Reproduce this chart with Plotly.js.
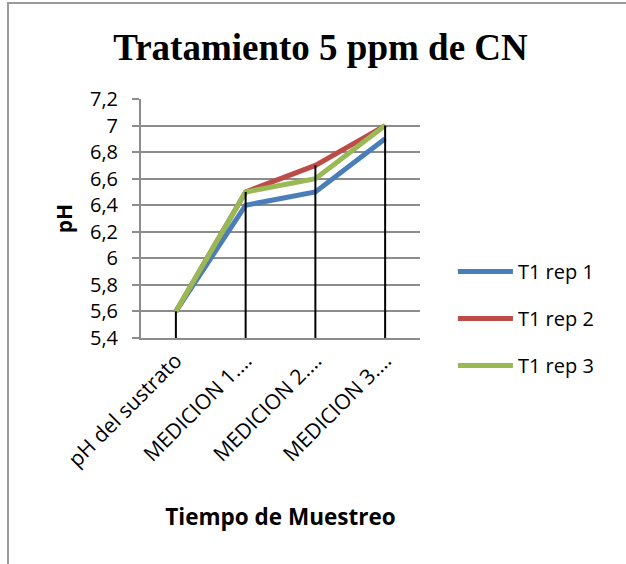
<!DOCTYPE html>
<html>
<head>
<meta charset="utf-8">
<script src="https://cdn.plot.ly/plotly-3.0.1.min.js"></script>
<style>
html,body{margin:0;padding:0;background:#fff;overflow:hidden;}
#wrap{position:relative;width:626px;height:564px;overflow:hidden;}
#chart{width:626px;height:564px;}
#frame{position:absolute;left:7px;top:2px;width:640px;height:600px;border-left:2px solid #9a9a9a;border-top:2px solid #9a9a9a;pointer-events:none;}
</style>
</head>
<body>
<div id="wrap"><div id="chart"></div><div id="frame"></div></div>
<script>
const categories = ["pH del sustrato", "MEDICION 1.…", "MEDICION 2.…", "MEDICION 3.…"];
const seriesNames = ["T1 rep 1", "T1 rep 2", "T1 rep 3"];
const rep1 = [5.6, 6.4, 6.5, 6.9];
const rep2 = [5.6, 6.5, 6.7, 7.0];
const rep3 = [5.6, 6.5, 6.6, 7.0];
const colors = ["#4A7EBB", "#BE4B48", "#98B954"];
const yMin = 5.4, yMax = 7.2;

const series = [rep1, rep2, rep3];
const traces = series.map((vals, i) => ({
  type: "scatter", mode: "lines", name: seriesNames[i], legendgroup: "g" + i,
  x: categories, y: vals,
  line: {color: colors[i], width: 5},
  hoverinfo: "skip"
}));

// drop lines from the highest value of each category down to the axis
const dx = [], dy = [];
categories.forEach((c, k) => {
  const top = Math.max(...series.map(s => s[k]));
  dx.push(c, c, null); dy.push(top, yMin, null);
});
traces.push({type: "scatter", mode: "lines", x: dx, y: dy, showlegend: false,
  line: {color: "#000", width: 2}, hoverinfo: "skip"});

const sans = "Open Sans, Liberation Sans, sans-serif";
const layout = {
  width: 626, height: 564,
  margin: {l: 141, r: 206, t: 99, b: 226},
  paper_bgcolor: "#fff", plot_bgcolor: "#fff",
  separators: ",.",
  showlegend: true,
  title: {text: "<b>Tratamiento 5 ppm de CN</b>", x: 0.512, xanchor: "center", y: 0.917, yanchor: "middle",
    font: {family: "Liberation Serif, Times New Roman, serif", size: 37, color: "#000"}},
  xaxis: {
    type: "category", range: [-0.5, 3.5], tickangle: -45,
    showgrid: false, showline: true, linecolor: "#8c8c8c", linewidth: 2,
    ticks: "", tickfont: {family: sans, size: 21, color: "#000"}, fixedrange: true,
    title: {text: "<b>Tiempo de Muestreo</b>", standoff: 38,
      font: {family: sans, size: 22.5, color: "#000"}}
  },
  yaxis: {
    range: [yMin, yMax], dtick: 0.2, tick0: 5.4,
    showgrid: true, gridcolor: "#8c8c8c", gridwidth: 2,
    showline: true, linecolor: "#8c8c8c", linewidth: 2,
    ticks: "outside", ticklen: 7, tickcolor: "#8c8c8c", tickwidth: 2,
    ticklabelstandoff: 10,
    tickfont: {family: sans, size: 20, color: "#000"}, fixedrange: true, zeroline: false,
    title: {text: "<b>pH</b>", standoff: 12,
      font: {family: sans, size: 21, color: "#000"}}
  },
  legend: {x: 1.118, xanchor: "left", y: 0.36, yanchor: "top", traceorder: "grouped",
    font: {family: sans, size: 20, color: "#000"},
    itemwidth: 55, tracegroupgap: 18, bgcolor: "rgba(0,0,0,0)"}
};
Plotly.newPlot("chart", traces, layout, {displayModeBar: false, staticPlot: true});
</script>
</body>
</html>
